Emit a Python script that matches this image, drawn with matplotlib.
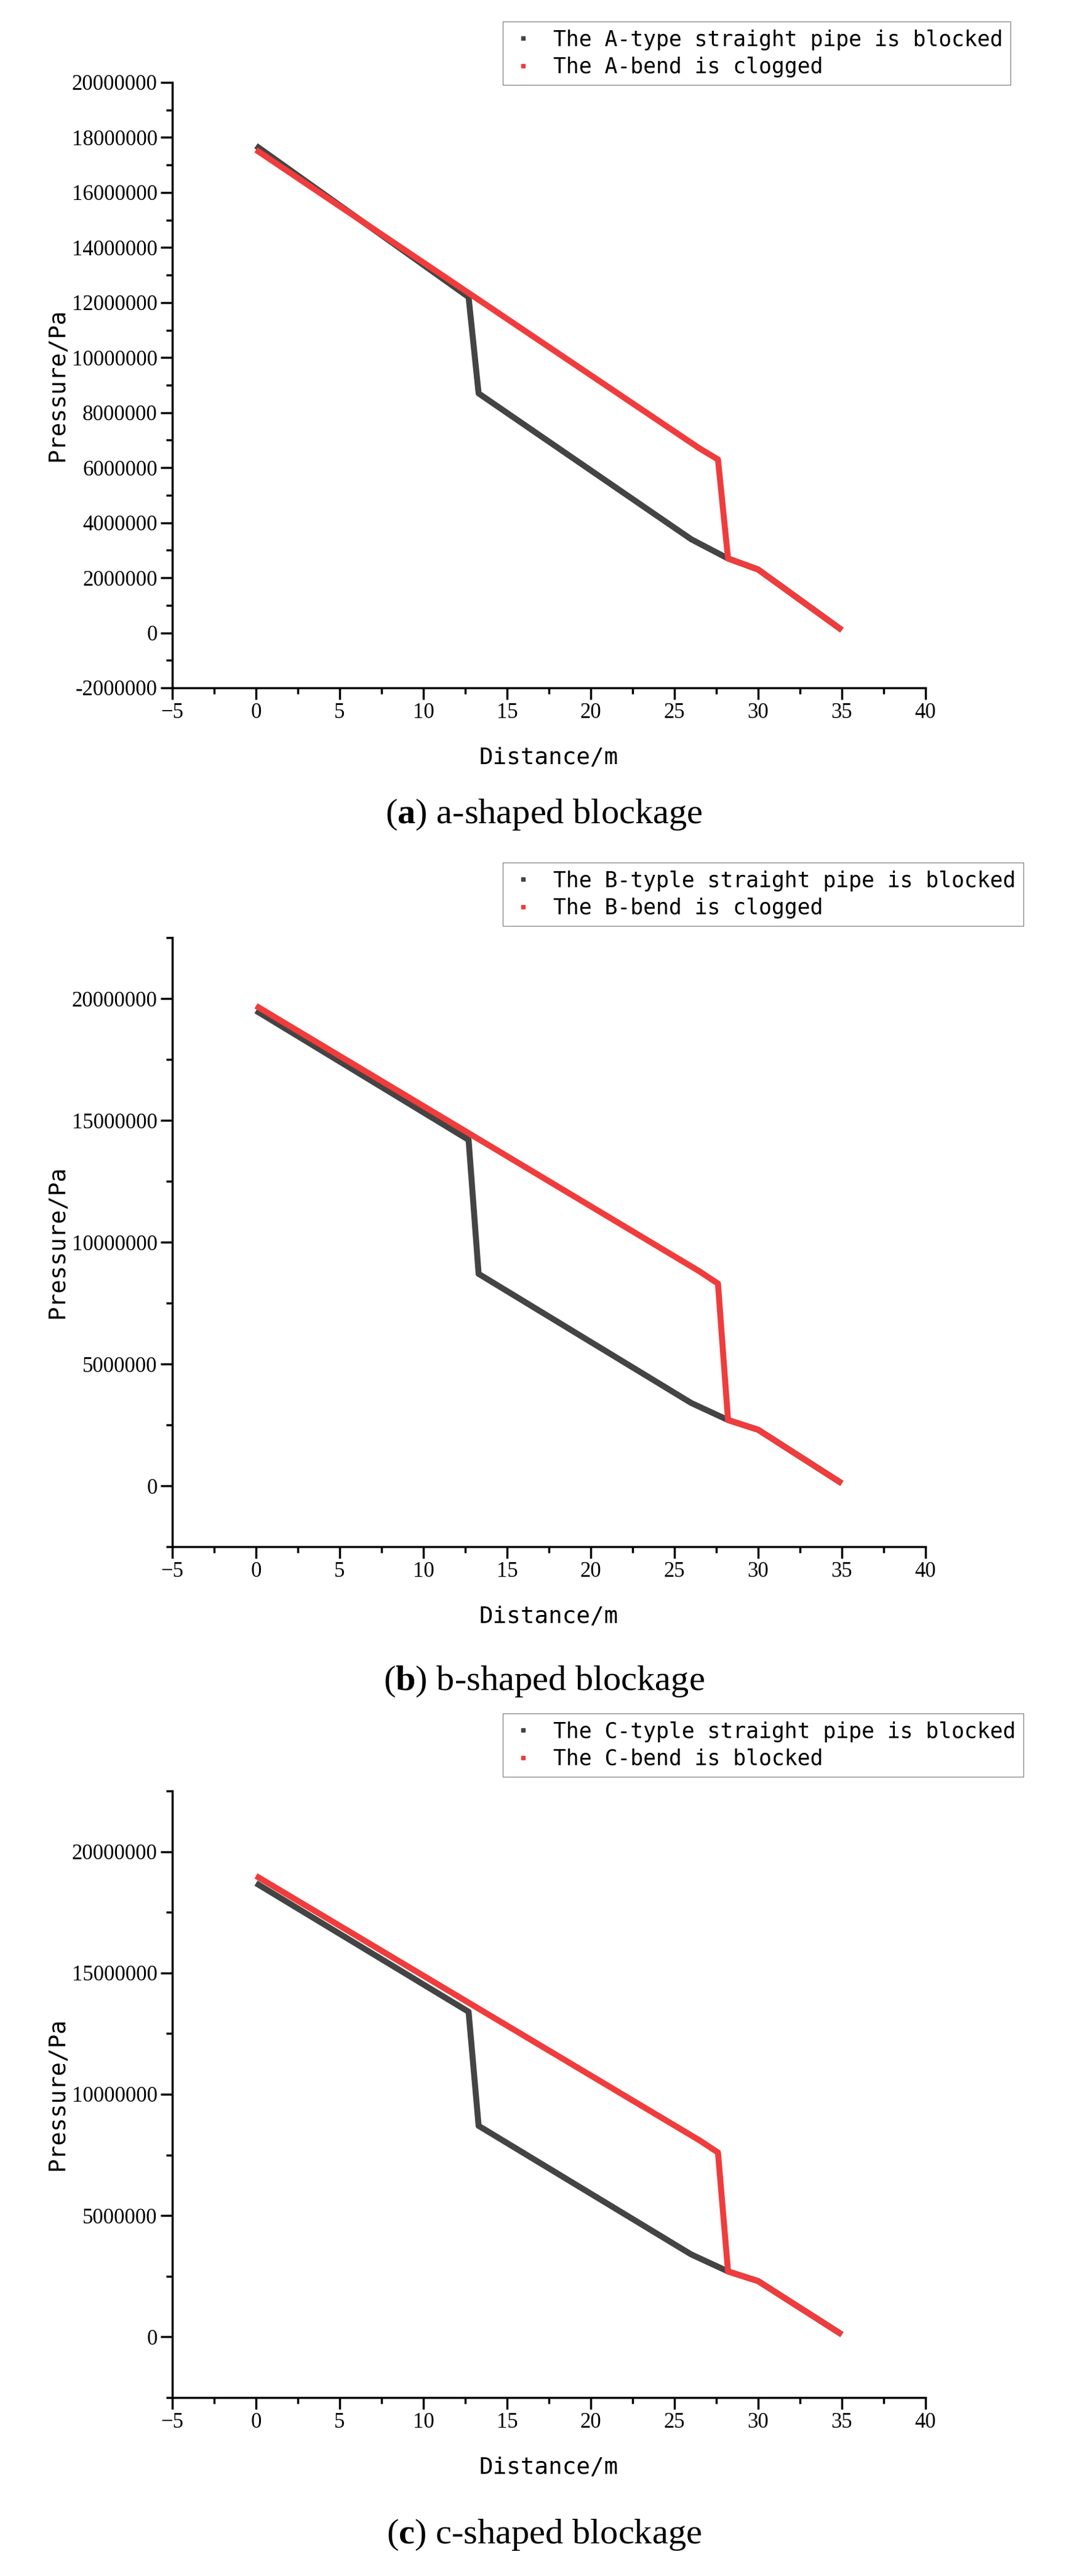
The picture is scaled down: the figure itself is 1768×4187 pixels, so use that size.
import numpy as np
import matplotlib
matplotlib.use('Agg')
import matplotlib.pyplot as plt

plt.rcParams['font.family'] = ['Liberation Serif', 'DejaVu Serif']
plt.rcParams['mathtext.fontset'] = 'custom'
plt.rcParams['mathtext.bf'] = 'Liberation Serif:bold'
plt.rcParams['mathtext.rm'] = 'Liberation Serif'

# distance (m) / pressure (Pa)
x_straight = [0, 12.7, 13.3, 26.0, 28.2, 30.0, 35.0]
x_bend = [0, 26.5, 27.6, 28.2, 30.0, 35.0]

p_a_straight = [17.7e6, 12.2e6, 8.7e6, 3.4e6, 2.7e6, 2.3e6, 0.1e6]
p_a_bend = [17.55e6, 6.7e6, 6.3e6, 2.7e6, 2.3e6, 0.1e6]
p_b_straight = [19.5e6, 14.2e6, 8.7e6, 3.4e6, 2.7e6, 2.3e6, 0.1e6]
p_b_bend = [19.7e6, 8.8e6, 8.3e6, 2.7e6, 2.3e6, 0.1e6]
p_c_straight = [18.7e6, 13.4e6, 8.7e6, 3.4e6, 2.7e6, 2.3e6, 0.1e6]
p_c_bend = [19.0e6, 8.1e6, 7.6e6, 2.7e6, 2.3e6, 0.1e6]

labels_a = ['The A-type straight pipe is blocked', 'The A-bend is clogged']
labels_b = ['The B-typle straight pipe is blocked', 'The B-bend is clogged']
labels_c = ['The C-typle straight pipe is blocked', 'The C-bend is blocked']
captions = [('a', ' a-shaped blockage'), ('b', ' b-shaped blockage'), ('c', ' c-shaped blockage')]

W, H = 1768, 4187
fig = plt.figure(figsize=(W / 100, H / 100), dpi=100)

# (top, bottom) of each axes in pixels, y limits, y ticks
panels = [
    (134, 1118, (-2e6, 20e6), np.arange(-2e6, 20.1e6, 2e6), 1e6, p_a_straight, p_a_bend, labels_a, 18, 1232, 1324),
    (1524, 2514, (-2.5e6, 22.5e6), np.arange(0, 20.1e6, 5e6), 2.5e6, p_b_straight, p_b_bend, labels_b, 1385, 2628, 2733),
    (2911, 3897, (-2.5e6, 22.5e6), np.arange(0, 20.1e6, 5e6), 2.5e6, p_c_straight, p_c_bend, labels_c, 2768, 4011, 4120),
]
mono = ['DejaVu Sans Mono', 'DejaVu Sans']

left, right = 280, 1504
for i, (top, bot, ylim, yt, minor, ps, pb, labs, legtop, xlab_y, cap_y) in enumerate(panels):
    ax = fig.add_axes([left / W, 1 - bot / H, (right - left) / W, (bot - top) / H])
    ax.plot(x_straight, ps, color='#444444', lw=7, solid_capstyle='butt', zorder=2)
    ax.plot(x_bend, pb, color='#f03c3c', lw=7, solid_capstyle='butt', zorder=3)
    ax.set_xlim(-5, 40)
    ax.set_ylim(*ylim)
    ax.set_xticks(np.arange(-5, 41, 5))
    ax.set_xticks(np.arange(-5, 40, 2.5), minor=True)
    ax.set_yticks(yt)
    ax.set_yticks(np.arange(ylim[0], ylim[1] + 1, minor), minor=True)
    ax.set_yticklabels(['%d' % v for v in yt])
    ax.spines['top'].set_visible(False)
    ax.spines['right'].set_visible(False)
    for s in ('left', 'bottom'):
        ax.spines[s].set_linewidth(2.5)
    ax.tick_params(which='major', length=14, width=2.5, labelsize=25)
    ax.tick_params(which='minor', length=7, width=2.5)
    ax.set_ylabel('Pressure/Pa', fontsize=27, family=mono)
    fig.text(0.5 * (left + right) / W, 1 - xlab_y / H, 'Distance/m', fontsize=27,
             family=mono, ha='center', va='center')
    h1, = ax.plot([], [], ls='none', marker='s', ms=5, color='#444444')
    h2, = ax.plot([], [], ls='none', marker='s', ms=5, color='#f03c3c')
    fig.legend(handles=[h1, h2], labels=labs, loc='upper left',
               bbox_to_anchor=(800 / W, 1 - legtop / H),
               fancybox=False, edgecolor='#888888', handlelength=1.2,
               framealpha=1, borderpad=0.35, labelspacing=0.3,
               prop={'family': mono, 'size': 25})
    letter, rest = captions[i]
    fig.text(0.5, 1 - cap_y / H, '(' + r'$\mathbf{' + letter + '}$' + ')' + rest,
             fontsize=42, ha='center', va='center')

fig.savefig('out.png', dpi=100)
